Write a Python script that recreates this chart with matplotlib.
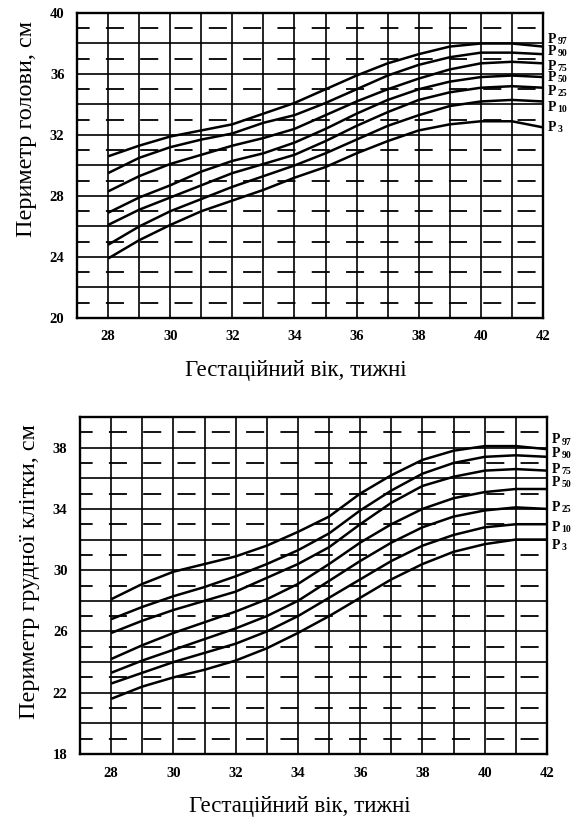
import matplotlib
matplotlib.use("Agg")
import matplotlib.pyplot as plt
import numpy as np

plt.rcParams['font.family'] = ['Liberation Serif', 'DejaVu Serif']

weeks = [28, 29, 30, 31, 32, 33, 34, 35, 36, 37, 38, 39, 40, 41, 42]
percentiles = ['97', '90', '75', '50', '25', '10', '3']

# Head circumference, cm
head_p97 = [30.6, 31.3, 31.9, 32.3, 32.7, 33.4, 34.1, 35.0, 35.9, 36.7, 37.3, 37.8, 38.0, 38.0, 37.8]
head_p90 = [29.5, 30.5, 31.2, 31.7, 32.1, 32.8, 33.3, 34.1, 35.0, 35.9, 36.6, 37.1, 37.4, 37.4, 37.3]
head_p75 = [28.3, 29.3, 30.1, 30.7, 31.3, 31.8, 32.4, 33.3, 34.2, 35.0, 35.7, 36.3, 36.7, 36.8, 36.7]
head_p50 = [26.9, 27.9, 28.7, 29.6, 30.3, 30.8, 31.5, 32.4, 33.4, 34.3, 35.0, 35.5, 35.8, 35.9, 35.8]
head_p25 = [26.1, 27.1, 27.9, 28.7, 29.5, 30.1, 30.7, 31.6, 32.6, 33.5, 34.3, 34.8, 35.1, 35.2, 35.1]
head_p10 = [24.8, 26.0, 27.0, 27.8, 28.6, 29.3, 30.0, 30.8, 31.7, 32.6, 33.3, 33.9, 34.2, 34.3, 34.2]
head_p3 = [23.9, 25.1, 26.1, 27.0, 27.7, 28.4, 29.2, 29.9, 30.8, 31.6, 32.3, 32.7, 32.9, 32.9, 32.5]

# Chest circumference, cm
chest_p97 = [28.1, 29.1, 29.9, 30.4, 30.9, 31.6, 32.5, 33.5, 35.0, 36.2, 37.2, 37.8, 38.1, 38.1, 37.9]
chest_p90 = [26.8, 27.6, 28.3, 28.9, 29.6, 30.4, 31.3, 32.4, 33.9, 35.2, 36.3, 37.0, 37.4, 37.5, 37.4]
chest_p75 = [25.9, 26.7, 27.4, 28.0, 28.6, 29.5, 30.4, 31.5, 33.0, 34.4, 35.5, 36.1, 36.5, 36.6, 36.5]
chest_p50 = [24.2, 25.1, 25.9, 26.6, 27.3, 28.1, 29.1, 30.4, 31.8, 33.0, 34.0, 34.7, 35.1, 35.3, 35.3]
chest_p25 = [23.3, 24.1, 24.8, 25.5, 26.2, 27.0, 28.0, 29.3, 30.6, 31.8, 32.8, 33.5, 33.9, 34.1, 34.0]
chest_p10 = [22.6, 23.3, 24.0, 24.6, 25.2, 26.0, 27.0, 28.2, 29.4, 30.6, 31.6, 32.3, 32.8, 33.0, 33.0]
chest_p3 = [21.6, 22.4, 23.0, 23.5, 24.1, 24.9, 25.9, 27.0, 28.2, 29.4, 30.4, 31.2, 31.7, 32.0, 32.0]

head_series = [head_p97, head_p90, head_p75, head_p50, head_p25, head_p10, head_p3]
chest_series = [chest_p97, chest_p90, chest_p75, chest_p50, chest_p25, chest_p10, chest_p3]

head_yticks = [20, 24, 28, 32, 36, 40]
chest_yticks = [18, 22, 26, 30, 34, 38]
xticks = [28, 30, 32, 34, 36, 38, 40, 42]

xlabel_text = 'Гестаційний вік, тижні'
head_ylabel = 'Периметр голови, см'
chest_ylabel = 'Периметр грудної клітки, см'

# layout: label vertical positions (data units) for the P-labels
head_label_y = [38.25, 37.45, 36.5, 35.75, 34.85, 33.8, 32.5]
chest_label_y = [38.5, 37.6, 36.55, 35.7, 34.1, 32.8, 31.6]

fig = plt.figure(figsize=(5.85, 8.21), dpi=100)
ax1 = fig.add_axes([77/585, 1-318/821, (543-77)/585, (318-13)/821])
ax2 = fig.add_axes([80/585, 1-754/821, (547-80)/585, (754-417)/821])


def setup(ax, ymin, ymax, yticks, ylabel, series, label_y, ylabel_pos):
    ax.set_xlim(27, 42)
    ax.set_ylim(ymin, ymax)
    for wk in range(28, 42):
        ax.axvline(wk, color='black', lw=1.2, zorder=1)
    for v in range(ymin + 1, ymax):
        if v % 2 == 0:
            ax.axhline(v, color='black', lw=1.2, zorder=1)
        else:
            ax.axhline(v, color='black', lw=1.3, linestyle=(3, (10, 9)), zorder=1)
    for s in series:
        ax.plot(weeks, s, color='black', lw=1.8, zorder=3, solid_capstyle='butt')
    for sp in ax.spines.values():
        sp.set_linewidth(1.7)
        sp.set_color('black')
    ax.set_xticks(xticks)
    ax.set_yticks(yticks)
    ax.tick_params(length=0, labelsize=10.5, pad=9)
    for lab in ax.get_xticklabels() + ax.get_yticklabels():
        lab.set_fontweight('bold')
    ax.set_xlabel(xlabel_text, fontsize=16.5, labelpad=12, x=0.47)
    ax.set_ylabel(ylabel, fontsize=17.5, labelpad=9, y=ylabel_pos)
    for p, y in zip(percentiles, label_y):
        ax.annotate('P', xy=(1, y), xycoords=('axes fraction', 'data'),
                    xytext=(3.5, 0), textcoords='offset points', ha='left', va='center',
                    fontsize=10, fontweight='bold', annotation_clip=False)
        ax.annotate(p, xy=(1, y), xycoords=('axes fraction', 'data'),
                    xytext=(10.3, -1.5), textcoords='offset points', ha='left', va='center',
                    fontsize=7, fontweight='bold', annotation_clip=False)


setup(ax1, 20, 40, head_yticks, head_ylabel, head_series, head_label_y, 0.62)
setup(ax2, 18, 40, chest_yticks, chest_ylabel, chest_series, chest_label_y, 0.54)

fig.savefig('out.png', dpi=100, facecolor='white')
